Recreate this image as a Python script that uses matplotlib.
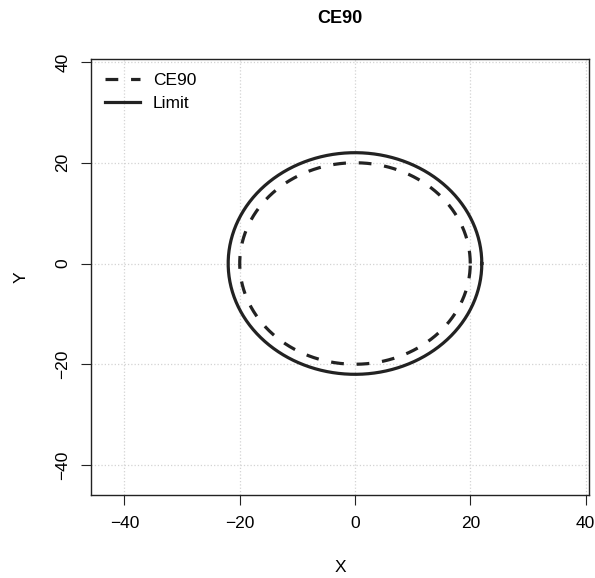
import numpy as np
import matplotlib
matplotlib.use("Agg")
import matplotlib.pyplot as plt

plt.rcParams['font.family'] = ['Liberation Sans', 'DejaVu Sans']

# circle radii
ce90_radius = 20
limit_radius = 22
center = (0, 0)
ticks = [-40, -20, 0, 20, 40]
xlim = (-45.8, 40.6)
ylim = (-45.9, 40.6)

theta = np.linspace(0, 2 * np.pi, 400)

fig = plt.figure(figsize=(5.95, 5.78), dpi=100)
ax = fig.add_axes([91 / 595, 1 - 494.7 / 578, (589 - 91) / 595, (494.7 - 59) / 578])

ax.plot(center[0] + ce90_radius * np.cos(theta), center[1] + ce90_radius * np.sin(theta),
        color='#222222', lw=2.3, linestyle=(0, (4, 4)), label='CE90')
ax.plot(center[0] + limit_radius * np.cos(theta), center[1] + limit_radius * np.sin(theta),
        color='#222222', lw=2.3, label='Limit')

ax.set_xlim(*xlim)
ax.set_ylim(*ylim)
ax.set_xticks(ticks)
ax.set_yticks(ticks)
ax.set_yticklabels([str(t).replace('-', '\u2212') for t in ticks], rotation=90, va='center')
ax.set_xticklabels([str(t).replace('-', '\u2212') for t in ticks])
ax.tick_params(direction='out', length=7, width=0.8, labelsize=12.5, pad=8, color='#222222')
ax.grid(True, color='lightgray', linestyle=':', linewidth=0.9)
ax.set_axisbelow(True)
for s in ax.spines.values():
    s.set_color('#222222')
    s.set_linewidth(1.0)

ax.set_xlabel('X', fontsize=12.5, labelpad=21)
ax.set_ylabel('Y', fontsize=12.5, labelpad=19)
ax.set_title('CE90', fontsize=13, fontweight='bold', pad=26)

ax.legend(loc='upper left', frameon=False, fontsize=12.5, handlelength=2.0,
          borderaxespad=0.4, labelspacing=0.45, handletextpad=0.75)

fig.savefig('out.png', dpi=100)
